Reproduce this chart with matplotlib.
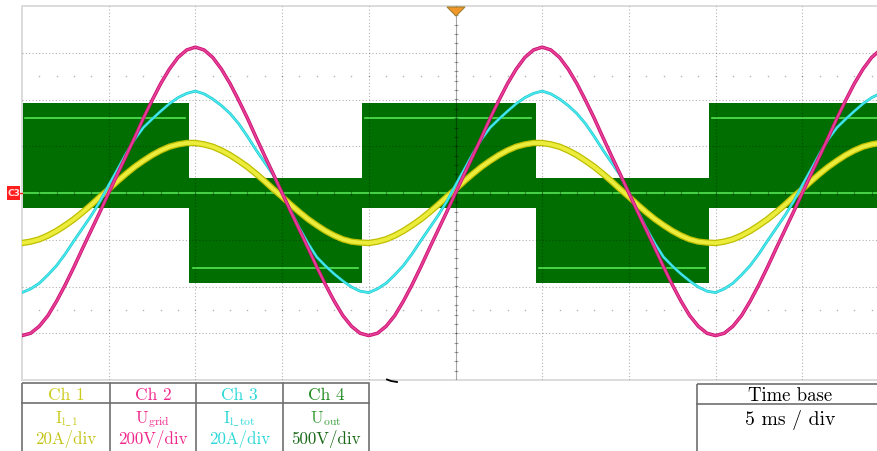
import numpy as np
import matplotlib.pyplot as plt
from matplotlib.patches import Rectangle, Polygon
import matplotlib.patheffects as pe

plt.rcParams['mathtext.fontset'] = 'cm'

t_period = np.arange(0, 20, 0.5)
u_grid = [-610, -600, -570, -524, -462, -392, -316, -236, -158, -80,
          0, 80, 158, 238, 320, 396, 468, 530, 580, 612,
          624, 612, 580, 530, 468, 396, 320, 238, 158, 80,
          0, -80, -158, -236, -316, -392, -462, -524, -570, -600]
i_l1 = [-21.4, -20.8, -19.8, -18.2, -16.2, -13.8, -11.2, -8.2, -5.0, -1.6,
        1.6, 5.0, 8.2, 11.2, 13.8, 16.2, 18.2, 19.8, 20.8, 21.4,
        21.4, 20.8, 19.8, 18.2, 16.2, 13.8, 11.2, 8.2, 5.0, 1.6,
        -1.6, -5.0, -8.2, -11.2, -13.8, -16.2, -18.2, -19.8, -20.8, -21.2]
i_ltot = [-42.6, -41.0, -38.6, -35.0, -31.0, -26.0, -20.4, -15.0, -9.6, -3.6,
          3.4, 10.0, 16.8, 23.0, 28.0, 31.6, 35.0, 38.2, 40.8, 42.6,
          43.6, 42.4, 40.2, 37.4, 34.0, 29.6, 24.2, 18.4, 13.0, 7.6,
          0.0, -7.6, -15.0, -21.6, -27.4, -31.2, -34.6, -37.6, -40.2, -42.0]
n_periods = 3

# Uout: unipolar PWM, switching envelope
pwm_edges = [0, 9.65, 19.6, 29.63, 39.62, 52]
pwm_sign = [1, -1, 1, -1, 1]
u_dc = 800
u_ripple = 165

# scope settings
ms_per_div = 5
scale_ch1 = 20     # A/div
scale_ch2 = 200    # V/div
scale_ch3 = 20     # A/div
scale_ch4 = 500    # V/div

channels = ['Ch 1', 'Ch 2', 'Ch 3', 'Ch 4']
ch_names = [r'$\mathrm{I}_{\mathrm{l\_1}}$', r'$\mathrm{U}_{\mathrm{grid}}$',
            r'$\mathrm{I}_{\mathrm{l\_tot}}$', r'$\mathrm{U}_{\mathrm{out}}$']
ch_scales = ['20A/div', '200V/div', '20A/div', '500V/div']

t = np.concatenate([t_period + 20 * k for k in range(n_periods)])
ugrid = np.tile(u_grid, n_periods) / scale_ch2
il1 = np.tile(i_l1, n_periods) / scale_ch1
iltot = np.tile(i_ltot, n_periods) / scale_ch3

W, H = 877, 451
fig = plt.figure(figsize=(W / 100, H / 100), dpi=100)
ax = fig.add_axes([22 / W, 1 - 380 / H, 867 / W, 374 / H])
ax.set_xlim(0, 10 * ms_per_div)
ax.set_ylim(-4, 4)
ax.set_xticks([])
ax.set_yticks([])
for s in ax.spines.values():
    s.set_color('#dcdcdc')
    s.set_linewidth(1.4)

# Ch4 band
green = '#006e00'
bright = '#55e455'
for k in range(len(pwm_sign)):
    t0, t1 = pwm_edges[k], pwm_edges[k + 1]
    sg = pwm_sign[k]
    lo = min(0, sg * u_dc) - u_ripple
    hi = max(0, sg * u_dc) + u_ripple
    ax.fill_between([t0, t1], lo / scale_ch4, hi / scale_ch4, color=green, lw=0, zorder=1)
    ax.plot([t0 + 0.2, t1 - 0.25], [sg * u_dc / scale_ch4] * 2, color=bright, lw=1.2, zorder=2)
ax.axhline(0, color=bright, lw=1.2, zorder=2)

# graticule
gcol = (0, 0, 0, 0.3)
for x in np.arange(ms_per_div, 10 * ms_per_div, ms_per_div):
    if x != 5 * ms_per_div:
        ax.axvline(x, color=gcol, lw=0.8, ls=(0, (1, 2)), zorder=3)
for y in range(-3, 4):
    if y != 0:
        ax.axhline(y, color=gcol, lw=0.8, ls=(0, (1, 2)), zorder=3)
ax.axvline(5 * ms_per_div, color=(0, 0, 0, 0.35), lw=0.8, zorder=3)
minor_t = np.arange(1, 50, 1.0)
minor_y = np.arange(-3.8, 4, 0.2)
ax.plot(minor_t, np.zeros_like(minor_t), ls='none', marker='|', ms=3.5, mew=0.8, color=(0, 0, 0, 0.35), zorder=3)
ax.plot(np.full_like(minor_y, 25), minor_y, ls='none', marker='_', ms=3.5, mew=0.8, color=(0, 0, 0, 0.35), zorder=3)
for y in (-2.5, 2.5):
    ax.plot(minor_t, np.full_like(minor_t, y), ls='none', marker='s', ms=1.0, mew=0, color=(0, 0, 0, 0.3), zorder=3)

# traces
ax.plot(t, il1, color='#ecec3c', lw=2.8, zorder=4, solid_capstyle='round',
        path_effects=[pe.Stroke(linewidth=4.6, foreground='#bebe00'), pe.Normal()])
ax.plot(t, iltot, color='#48eaee', lw=1.1, zorder=5,
        path_effects=[pe.Stroke(linewidth=2.0, foreground='#22c6cf'), pe.Normal()])
ax.plot(t, ugrid, color='#e8409a', lw=1.3, zorder=6,
        path_effects=[pe.Stroke(linewidth=2.5, foreground='#c8126e'), pe.Normal()])

# overlay in pixel coordinates
ov = fig.add_axes([0, 0, 1, 1], zorder=5)
ov.set_xlim(0, W)
ov.set_ylim(H, 0)
ov.axis('off')
ov.patch.set_alpha(0)

# trigger marker and channel marker
ov.add_patch(Polygon([[447, 7], [465, 7], [456, 16]], closed=True, fc='#f0962a', ec='#a08030', lw=0.8))
ov.add_patch(Rectangle((7, 186), 13, 14, fc='#ff1e1e', ec='none'))
ov.text(13.5, 193.5, 'C3', color='#ffe0e0', fontsize=6.5, ha='center', va='center', fontweight='bold')
ov.plot([20, 22], [193, 193], color='#ff1e1e', lw=1)
ov.plot([387, 391, 397], [379.5, 381, 382], color='black', lw=1.3)

# channel table
tcol = '#707070'
col_x = [22, 110, 196, 283, 369]
ov.add_patch(Rectangle((22, 383), 347, 80, fc='none', ec=tcol, lw=1.2))
ov.plot([22, 369], [403, 403], color=tcol, lw=1.2)
for x in col_x[1:-1]:
    ov.plot([x, x], [383, 460], color=tcol, lw=1.2)
head_colors = ['#cbcb1e', '#f0288c', '#2ed8d8', '#1e8a1e']
name_colors = ['#cbcb1e', '#f0288c', '#2ed8d8', '#3c9e3c']
scale_colors = ['#c4c41a', '#f0288c', '#2ed8d8', '#1a6a1a']
for k in range(4):
    cx = (col_x[k] + col_x[k + 1]) / 2
    ov.text(cx, 400, channels[k], color=head_colors[k], fontsize=12.5, family='cmr10', ha='center', va='baseline')
    ov.text(cx, 423, ch_names[k], color=name_colors[k], fontsize=12, ha='center', va='baseline')
    ov.text(cx, 444, ch_scales[k], color=scale_colors[k], fontsize=12.2, family='cmr10', ha='center', va='baseline')

# time base box
ov.add_patch(Rectangle((697, 384), 220, 80, fc='none', ec=tcol, lw=1.2))
ov.plot([697, 917], [404, 404], color=tcol, lw=1.2)
ov.text(790, 401, 'Time base', color='black', fontsize=13.5, family='cmr10', ha='center', va='baseline')
ov.text(790, 425, f'{ms_per_div} ms / div', color='black', fontsize=14.2, family='cmr10', ha='center', va='baseline')

fig.savefig('out.png', dpi=100)
